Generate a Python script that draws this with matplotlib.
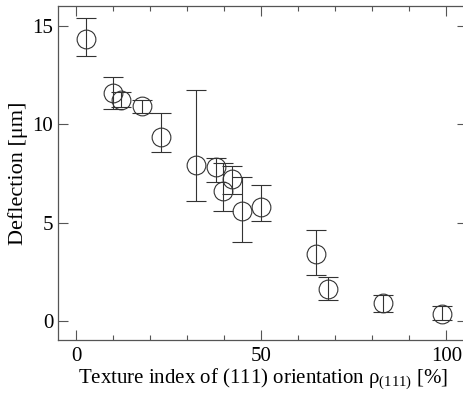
import matplotlib
matplotlib.use("Agg")
import matplotlib.pyplot as plt
from matplotlib.ticker import MultipleLocator

plt.rcParams['font.family'] = ['Liberation Serif', 'DejaVu Serif']
plt.rcParams['mathtext.fontset'] = 'custom'
plt.rcParams['mathtext.rm'] = 'Liberation Serif'
plt.rcParams['mathtext.it'] = 'Liberation Serif'

# Texture index (%) vs. deflection (um) with asymmetric error bounds
texture = [2.7, 9.8, 12.1, 17.8, 22.9, 32.4, 37.7, 42.1, 39.5, 44.8, 49.8, 64.9, 67.9, 83.0, 98.8]
deflection = [14.34, 11.57, 11.22, 10.93, 9.38, 7.95, 7.85, 7.20, 6.62, 5.57, 5.81, 3.42, 1.63, 0.90, 0.37]
err_upper = [15.40, 12.43, 11.62, 11.22, 10.59, 11.73, 8.30, 7.90, 8.05, 7.34, 6.94, 4.63, 2.25, 1.30, 0.78]
err_lower = [13.50, 10.80, 10.88, 10.59, 8.61, 6.09, 7.08, 6.48, 5.57, 4.00, 5.10, 2.32, 1.04, 0.46, 0.05]

yerr = [[d - lo for d, lo in zip(deflection, err_lower)],
        [hi - d for d, hi in zip(deflection, err_upper)]]

W, H = 464, 393
fig = plt.figure(figsize=(W / 100, H / 100), dpi=100)
ax = fig.add_axes([58 / W, 1 - 340 / H, (467 - 58) / W, 334 / H])

col = '#333333'
ax.errorbar(texture, deflection, yerr=yerr, fmt='o', mfc='none', mec=col,
            ms=13.5, mew=0.8, ecolor=col, elinewidth=0.8, capsize=7.2,
            capthick=0.8)

ax.set_xlim(-5.0, 105.6)
ax.set_ylim(-0.97, 16.02)
ax.xaxis.set_major_locator(MultipleLocator(50))
ax.xaxis.set_minor_locator(MultipleLocator(10))
ax.yaxis.set_major_locator(MultipleLocator(5))

ax.tick_params(which='both', direction='in', top=True, right=True,
               color='#555555', width=0.8, labelsize=15, colors='black')
ax.tick_params(which='major', length=7)
ax.tick_params(which='minor', length=3.6)
ax.tick_params(axis='x', pad=5)
for s in ax.spines.values():
    s.set_color('#555555')
    s.set_linewidth(0.9)

ax.set_xlabel(r'Texture index of (111) orientation $\rho_{(111)}$ [%]',
              fontsize=15, labelpad=0)
ax.set_ylabel('Deflection [μm]', fontsize=16, labelpad=3)

fig.savefig('out.png', dpi=100)
